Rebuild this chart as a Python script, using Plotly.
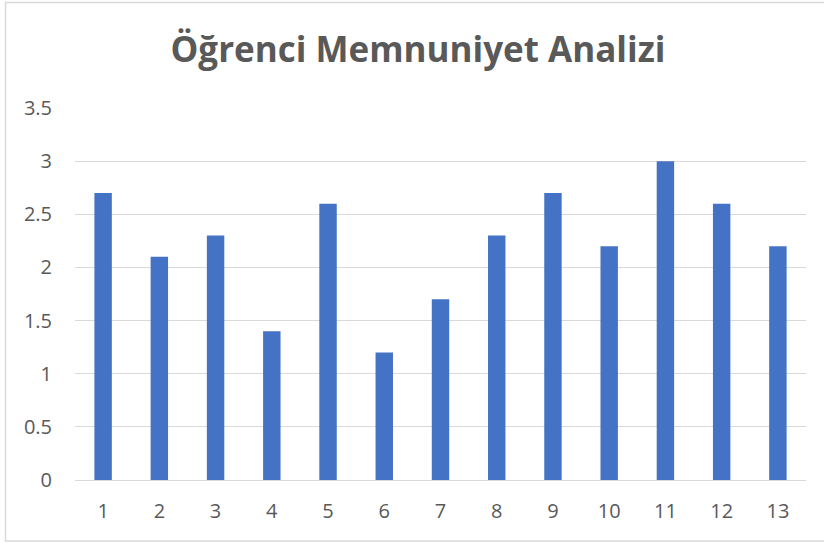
import plotly.graph_objects as go

categories = [str(i) for i in range(1, 14)]
values = [2.7, 2.1, 2.3, 1.4, 2.6, 1.2, 1.7, 2.3, 2.7, 2.2, 3.0, 2.6, 2.2]
y_ticks = [0, 0.5, 1, 1.5, 2, 2.5, 3, 3.5]
y_tick_labels = ["0", "0.5", "1", "1.5", "2", "2.5", "3", "3.5"]
title_text = "Öğrenci Memnuniyet Analizi"

W, H = 824, 543
L, R, T, B = 75, 18, 108, 63
pw, ph = W - L - R, H - T - B

fig = go.Figure(go.Bar(x=categories, y=values, marker=dict(color="#4472C4", line=dict(width=0)),
                       hoverinfo="x+y"))

def px_x(p):
    return (p - L) / pw

def px_y(p):
    return (H - B - p) / ph

fig.update_layout(
    width=W, height=H,
    margin=dict(l=L, r=R, t=T, b=B),
    paper_bgcolor="white", plot_bgcolor="white",
    bargap=0.69,
    showlegend=False,
    title=dict(text="<b>" + title_text + "</b>", x=418 / W, xref="container", xanchor="center",
               y=1 - 50 / H, yref="container", yanchor="middle",
               font=dict(family="Open Sans", size=35, color="#595959")),
    font=dict(family="Open Sans", size=20, color="#595959"),
    xaxis=dict(type="category", showgrid=False, showline=True, linecolor="#D9D9D9", linewidth=1,
               ticks="", tickfont=dict(size=20, color="#595959"), ticklabelstandoff=13,
               fixedrange=True),
    yaxis=dict(range=[0, 3.5], tickvals=y_ticks, ticktext=y_tick_labels, showgrid=True,
               gridcolor="#D9D9D9", gridwidth=1, zeroline=False, showline=False, ticks="",
               tickfont=dict(size=20, color="#595959"), ticklabelstandoff=22, fixedrange=True),
    shapes=[dict(type="rect", xref="paper", yref="paper",
                 x0=px_x(5.5), x1=px_x(840), y0=px_y(541), y1=px_y(2.5),
                 line=dict(color="#D9D9D9", width=1.5), fillcolor="rgba(0,0,0,0)", layer="below")],
)

fig.write_html("out.html", config={"displayModeBar": False},
               post_script="document.body.style.margin='0';document.body.style.overflow='hidden';")
